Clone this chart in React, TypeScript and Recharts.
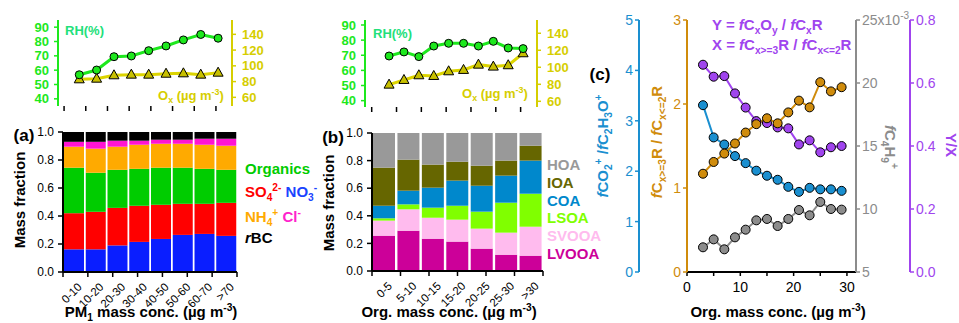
import React from "react";
import { BarChart, Bar, LineChart, Line, XAxis, YAxis } from "recharts";

const FONT = '"Liberation Sans", Arial, Helvetica, sans-serif';

const GREEN = "#1de81d";
const RH_TXT = "#22e07a";
const OX = "#d6ce00";
const OX_LINE = "#dcd400";
const OX_FILL = "#c8c000";
const C_BLUE = "#1a8fd0";
const C_ORANGE = "#d08c0c";
const C_GRAY = "#8c8c8c";
const C_PURPLE = "#a044ee";

// (a) top: RH and Ox vs PM1 bins
const pmMid = [7, 15, 23, 31, 39, 47, 55, 63, 71];
const rhPm = [56.8, 60.1, 69.4, 69.9, 73.6, 76.9, 81.1, 84.9, 82.3];
const oxPm = [82.9, 83.7, 88.0, 88.8, 88.8, 90.0, 90.5, 88.8, 91.3];
const pmEdges = [0, 10, 20, 30, 40, 50, 60, 70];

// (b) top: RH and Ox vs org bins
const orgMid = [3.5, 6.5, 9.5, 12.5, 15.5, 18.5, 21.5, 24.5, 27.5, 30.5];
const rhOrg = [69.5, 72.2, 69.1, 76.1, 77.9, 77.9, 76.1, 79.2, 74.8, 74.4];
const oxOrg = [79.6, 85.1, 90.6, 89.8, 95.3, 96.9, 103.1, 100.8, 102.4, 116.5];
const orgEdges = [0, 5, 10, 15, 20, 25, 30];

// (a) PM1 composition (mass fraction)
const pmBins = ["0-10", "10-20", "20-30", "30-40", "40-50", "50-60", "60-70", ">70"];
const no3 = [0.162, 0.162, 0.19, 0.215, 0.236, 0.265, 0.272, 0.258];
const so4 = [0.258, 0.268, 0.268, 0.258, 0.244, 0.222, 0.215, 0.236];
const orgs = [0.325, 0.279, 0.272, 0.264, 0.265, 0.258, 0.25, 0.236];
const nh4 = [0.15, 0.172, 0.165, 0.172, 0.171, 0.171, 0.172, 0.172];
const chl = [0.035, 0.049, 0.043, 0.029, 0.029, 0.029, 0.043, 0.05];
const rbc = [0.07, 0.07, 0.062, 0.062, 0.055, 0.055, 0.048, 0.048];

// (b) OA factor fractions
const orgBins = ["0-5", "5-10", "10-15", "15-20", "20-25", "25-30", ">30"];
const lvooa = [0.256, 0.292, 0.234, 0.213, 0.162, 0.118, 0.111];
const svooa = [0.109, 0.155, 0.152, 0.159, 0.145, 0.16, 0.21];
const lsoa = [0.017, 0.036, 0.073, 0.101, 0.123, 0.217, 0.239];
const coa = [0.091, 0.099, 0.145, 0.182, 0.188, 0.196, 0.24];
const ioa = [0.276, 0.225, 0.167, 0.137, 0.145, 0.109, 0.108];
const hoa = [0.251, 0.193, 0.229, 0.208, 0.237, 0.2, 0.092];

// (c) ratios vs org mass
const orgConc = [3, 5, 7, 9, 11, 13, 15, 17, 19, 21, 23, 25, 27, 29];
const co2Ratio = [3.31, 2.67, 2.53, 2.3, 2.16, 2.01, 1.91, 1.83, 1.69, 1.59, 1.67, 1.64, 1.64, 1.61];
const cxRatio = [1.17, 1.31, 1.41, 1.53, 1.66, 1.76, 1.83, 1.77, 1.9, 2.04, 1.96, 2.26, 2.15, 2.2];
const fC4H9 = [6.96, 7.59, 6.8, 7.75, 8.36, 9.1, 9.21, 8.65, 9.21, 9.92, 9.5, 10.56, 10.0, 9.95]; // x1e-3
const yOverX = [0.658, 0.62, 0.622, 0.567, 0.522, 0.479, 0.473, 0.459, 0.456, 0.405, 0.418, 0.38, 0.396, 0.4];

const Sub = ({ c }: { c: string }) => (
  <span style={{ fontSize: "0.68em", position: "relative", top: "0.35em" }}>{c}</span>
);
const Sup = ({ c }: { c: string }) => (
  <span style={{ fontSize: "0.68em", position: "relative", top: "-0.6em" }}>{c}</span>
);

function Txt({ x, y, children, color = "#000", size = 15, bold = true, rot = 0, start = false }: any) {
  return (
    <div
      style={{
        position: "absolute",
        left: x,
        top: y,
        transform: `translate(${start ? "0" : "-50%"},-50%) rotate(${rot}deg)`,
        color,
        fontSize: size,
        fontWeight: bold ? 700 : 400,
        fontFamily: FONT,
        whiteSpace: "nowrap",
        lineHeight: 1,
      }}
    >
      {children}
    </div>
  );
}

const Tri = (p: any) => {
  const { cx, cy } = p;
  if (cx == null || cy == null) return <g key={p.index} />;
  return (
    <polygon
      key={p.index}
      points={`${cx},${cy - 5.5} ${cx + 5},${cy + 3.5} ${cx - 5},${cy + 3.5}`}
      fill={OX_FILL}
      stroke="#000"
      strokeWidth={1}
    />
  );
};

function RhOxChart({ x, rh, ox, edges, xDomain, rhDomain, oxDomain, width, height, leftW, rightW }: any) {
  const data = x.map((v: number, i: number) => ({ x: v, rh: rh[i], ox: ox[i] }));
  const tickFont = { fontSize: 13, fontWeight: 700, fontFamily: FONT };
  return (
    <LineChart width={width} height={height} data={data} margin={{ top: 20, right: 0, bottom: 0, left: 0 }}>
      <XAxis
        dataKey="x"
        type="number"
        domain={xDomain}
        ticks={edges}
        interval={0}
        allowDataOverflow
        tickFormatter={() => ""}
        axisLine={false}
        tickLine={{ stroke: "#000", strokeWidth: 1.5 }}
        tickSize={5}
        height={9}
      />
      <YAxis
        yAxisId="rh"
        domain={rhDomain}
        ticks={[40, 50, 60, 70, 80, 90]}
        interval={0}
        allowDataOverflow
        width={leftW}
        axisLine={{ stroke: GREEN, strokeWidth: 2 }}
        tickLine={{ stroke: GREEN, strokeWidth: 1.5 }}
        tickSize={4}
        tickMargin={5}
        tick={{ fill: GREEN, ...tickFont }}
      />
      <YAxis
        yAxisId="ox"
        orientation="right"
        domain={oxDomain}
        ticks={[60, 80, 100, 120, 140]}
        interval={0}
        allowDataOverflow
        width={rightW}
        axisLine={{ stroke: OX, strokeWidth: 2 }}
        tickLine={{ stroke: OX, strokeWidth: 1.5 }}
        tickSize={4}
        tickMargin={6}
        tick={{ fill: OX, ...tickFont }}
      />
      <Line yAxisId="ox" dataKey="ox" stroke={OX_LINE} strokeWidth={3} dot={Tri} isAnimationActive={false} />
      <Line
        yAxisId="rh"
        dataKey="rh"
        stroke={GREEN}
        strokeWidth={3}
        dot={{ r: 4, fill: GREEN, stroke: "#000", strokeWidth: 1 }}
        isAnimationActive={false}
      />
    </LineChart>
  );
}

const RotTick = (p: any) => {
  const { x, y, payload } = p;
  const ax = x + 3;
  const ay = y + 1;
  return (
    <text
      x={ax}
      y={ay}
      dy="0.7em"
      transform={`rotate(-45 ${ax} ${ay})`}
      textAnchor="end"
      fontSize={11.5}
      fontFamily={FONT}
      fill="#000"
    >
      {payload.value}
    </text>
  );
};

// axes of one side are stacked by id order: "x0" sits next to the plot
function StackBars({ bins, series, width, height, leftW, top, right, catH }: any) {
  const data = bins.map((b: string, i: number) => {
    const row: any = { bin: b };
    series.forEach((s: any) => (row[s.key] = s.values[i]));
    return row;
  });
  const edges = bins.map((_: string, i: number) => i).concat([bins.length]);
  return (
    <BarChart
      width={width}
      height={height}
      data={data}
      margin={{ top, right, bottom: 0, left: 0 }}
      barCategoryGap={1}
    >
      <XAxis
        xAxisId="x0"
        type="number"
        domain={[0, bins.length]}
        ticks={edges}
        interval={0}
        allowDataOverflow
        tickFormatter={() => ""}
        axisLine={{ stroke: "#000", strokeWidth: 2 }}
        tickLine={{ stroke: "#000", strokeWidth: 1.5 }}
        tickSize={5}
        height={1}
      />
      <XAxis xAxisId="x1" dataKey="bin" interval={0} tickLine={false} axisLine={false} tick={RotTick} height={catH} />
      <YAxis
        domain={[0, 1]}
        ticks={[0, 0.2, 0.4, 0.6, 0.8, 1]}
        interval={0}
        tickFormatter={(v: number) => v.toFixed(1)}
        width={leftW}
        axisLine={{ stroke: "#000", strokeWidth: 2 }}
        tickLine={{ stroke: "#000", strokeWidth: 1.5 }}
        tickSize={5}
        tickMargin={4}
        tick={{ fill: "#000", fontSize: 12, fontFamily: FONT }}
      />
      {series.map((s: any) => (
        <Bar key={s.key} xAxisId="x1" stackId="s" dataKey={s.key} fill={s.color} isAnimationActive={false} />
      ))}
    </BarChart>
  );
}

const GrayTick = (p: any) => {
  const { x, y, payload } = p;
  return (
    <text x={x} y={y} dy="0.355em" textAnchor="start" fill={C_GRAY} fontSize={14} fontFamily={FONT}>
      {payload.value}
      {payload.value === 25 ? "x10" : ""}
      {payload.value === 25 ? (
        <tspan dy="-0.55em" fontSize={10}>
          -3
        </tspan>
      ) : null}
    </text>
  );
};

function PanelC() {
  const data = orgConc.map((x, i) => ({
    x,
    co2: co2Ratio[i],
    cx: cxRatio[i],
    c4: fC4H9[i],
    yx: yOverX[i],
  }));
  const font = { fontSize: 14, fontFamily: FONT };
  const dot = (c: string) => ({ r: 4.5, fill: c, stroke: "#000", strokeWidth: 1 });
  return (
    <LineChart width={399} height={323} data={data} margin={{ top: 20, right: 0, bottom: 0, left: 0 }}>
      <XAxis
        dataKey="x"
        type="number"
        domain={[0, 31.7]}
        ticks={[0, 5, 10, 15, 20, 25, 30]}
        interval={0}
        allowDataOverflow
        tickFormatter={(v: number) => (v % 10 === 0 ? String(v) : "")}
        axisLine={{ stroke: "#000", strokeWidth: 2 }}
        tickLine={{ stroke: "#000", strokeWidth: 1.5 }}
        tickSize={4}
        tickMargin={6}
        tick={{ fill: "#000", ...font }}
        height={51}
      />
      <YAxis
        yAxisId="y0"
        domain={[0, 3]}
        ticks={[0, 1, 2, 3]}
        interval={0}
        width={48}
        axisLine={{ stroke: C_ORANGE, strokeWidth: 2 }}
        tickLine={{ stroke: C_ORANGE, strokeWidth: 1.5 }}
        tickSize={4}
        tick={{ fill: C_ORANGE, ...font }}
      />
      <YAxis
        yAxisId="y1"
        domain={[0, 5]}
        ticks={[0, 1, 2, 3, 4, 5]}
        interval={0}
        width={79}
        axisLine={{ stroke: C_BLUE, strokeWidth: 2 }}
        tickLine={{ stroke: C_BLUE, strokeWidth: 1.5 }}
        tickSize={4}
        tick={{ fill: C_BLUE, ...font }}
      />
      <YAxis
        yAxisId="y2"
        orientation="right"
        domain={[5, 25]}
        ticks={[5, 10, 15, 20, 25]}
        interval={0}
        width={54}
        axisLine={{ stroke: C_GRAY, strokeWidth: 2 }}
        tickLine={{ stroke: C_GRAY, strokeWidth: 1.5 }}
        tickSize={4}
        tick={GrayTick}
      />
      <YAxis
        yAxisId="y3"
        orientation="right"
        domain={[0, 0.8]}
        ticks={[0, 0.2, 0.4, 0.6, 0.8]}
        interval={0}
        tickFormatter={(v: number) => v.toFixed(1)}
        width={49}
        axisLine={{ stroke: C_PURPLE, strokeWidth: 2 }}
        tickLine={{ stroke: C_PURPLE, strokeWidth: 1.5 }}
        tickSize={4}
        tick={{ fill: C_PURPLE, ...font }}
      />
      <Line yAxisId="y1" dataKey="co2" stroke={C_BLUE} strokeWidth={2} dot={dot(C_BLUE)} isAnimationActive={false} />
      <Line yAxisId="y2" dataKey="c4" stroke={C_GRAY} strokeWidth={2} dot={dot(C_GRAY)} isAnimationActive={false} />
      <Line yAxisId="y3" dataKey="yx" stroke={C_PURPLE} strokeWidth={2} dot={dot(C_PURPLE)} isAnimationActive={false} />
      <Line yAxisId="y0" dataKey="cx" stroke={C_ORANGE} strokeWidth={2} dot={dot(C_ORANGE)} isAnimationActive={false} />
    </LineChart>
  );
}

const Abs = ({ x, y, children }: any) => (
  <div style={{ position: "absolute", left: x, top: y }}>{children}</div>
);

export default function App() {
  const seriesA = [
    { key: "no3", values: no3, color: "#0a1eff" },
    { key: "so4", values: so4, color: "#ff0000" },
    { key: "org", values: orgs, color: "#00cc00" },
    { key: "nh4", values: nh4, color: "#ffaa00" },
    { key: "chl", values: chl, color: "#ff14d2" },
    { key: "rbc", values: rbc, color: "#000000" },
  ];
  const seriesB = [
    { key: "lvooa", values: lvooa, color: "#cc0099" },
    { key: "svooa", values: svooa, color: "#ffbbee" },
    { key: "lsoa", values: lsoa, color: "#80ff00" },
    { key: "coa", values: coa, color: "#0088cc" },
    { key: "ioa", values: ioa, color: "#666600" },
    { key: "hoa", values: hoa, color: "#999999" },
  ];
  return (
    <div
      style={{
        position: "absolute",
        left: 0,
        top: 0,
        width: 959,
        height: 323,
        background: "#fff",
        overflow: "hidden",
        fontFamily: FONT,
      }}
    >
      <Abs x={0} y={0}>
        <RhOxChart
          x={pmMid}
          rh={rhPm}
          ox={oxPm}
          edges={pmEdges}
          xDomain={[-2.8, 77.4]}
          rhDomain={[35, 95]}
          oxDomain={[49, 158.2]}
          width={270}
          height={115}
          leftW={58}
          rightW={38}
        />
      </Abs>
      <Abs x={310} y={0}>
        <RhOxChart
          x={orgMid}
          rh={rhOrg}
          ox={oxOrg}
          edges={orgEdges}
          xDomain={[-1.35, 33.3]}
          rhDomain={[35.8, 93.3]}
          oxDomain={[53.3, 155.6]}
          width={260}
          height={116}
          leftW={55}
          rightW={33}
        />
      </Abs>
      <Abs x={0} y={120}>
        <StackBars bins={pmBins} series={seriesA} width={240} height={203} leftW={63} top={12} right={3} catH={50} />
      </Abs>
      <Abs x={315} y={120}>
        <StackBars bins={orgBins} series={seriesB} width={235} height={203} leftW={57} top={13} right={7} catH={51} />
      </Abs>
      <Abs x={560} y={0}>
        <PanelC />
      </Abs>

      {/* top panel labels */}
      <Txt x={65} y={30} start color={RH_TXT} size={13}>RH(%)</Txt>
      <Txt x={158} y={95} start color={OX} size={13}>
        O<Sub c="x" /> (µg m<Sup c="-3" />)
      </Txt>
      <Txt x={373} y={33} start color={RH_TXT} size={13}>RH(%)</Txt>
      <Txt x={462} y={93} start color={OX} size={13}>
        O<Sub c="x" /> (µg m<Sup c="-3" />)
      </Txt>

      {/* panel letters */}
      <Txt x={24} y={135} size={17}>(a)</Txt>
      <Txt x={333} y={137} size={17}>(b)</Txt>
      <Txt x={600} y={74} size={17}>(c)</Txt>

      {/* bar axis titles */}
      <Txt x={19} y={200} rot={-90}>Mass fraction</Txt>
      <Txt x={328} y={203} rot={-90}>Mass fraction</Txt>
      <Txt x={151} y={312}>
        PM<Sub c="1" /> mass conc. (µg m<Sup c="-3" />)
      </Txt>
      <Txt x={449} y={312}>
        Org. mass conc. (µg m<Sup c="-3" />)
      </Txt>
      <Txt x={778} y={312}>
        Org. mass conc. (µg m<Sup c="-3" />)
      </Txt>

      {/* legend (a) */}
      <Txt x={245} y={168} start color="#00cc00">Organics</Txt>
      <Txt x={245} y={192} start>
        <span style={{ color: "#ff0000" }}>
          SO<Sub c="4" />
          <Sup c="2-" />
        </span>{" "}
        <span style={{ color: "#1a44ff" }}>
          NO<Sub c="3" />
          <Sup c="-" />
        </span>
      </Txt>
      <Txt x={245} y={217} start>
        <span style={{ color: "#ffaa00" }}>
          NH<Sub c="4" />
          <Sup c="+" />
        </span>{" "}
        <span style={{ color: "#ff22cc" }}>
          Cl<Sup c="-" />
        </span>
      </Txt>
      <Txt x={245} y={237} start>
        <i>r</i>BC
      </Txt>

      {/* legend (b) */}
      <Txt x={547} y={164} start color="#999999">HOA</Txt>
      <Txt x={547} y={182} start color="#666600">IOA</Txt>
      <Txt x={547} y={200} start color="#0088cc">COA</Txt>
      <Txt x={547} y={217} start color="#80ff00">LSOA</Txt>
      <Txt x={547} y={235} start color="#ffbbee">SVOOA</Txt>
      <Txt x={547} y={253} start color="#cc0099">LVOOA</Txt>

      {/* panel (c) axis labels */}
      <Txt x={603} y={146} rot={-90} color={C_BLUE}>
        <i>f</i>CO<Sub c="2" />
        <Sup c="+" /> /<i>f</i>C<Sub c="2" />H<Sub c="3" />O<Sup c="+" />
      </Txt>
      <Txt x={657} y={142} rot={-90} color={C_ORANGE}>
        <i>f</i>C<Sub c="x>=3" />R / <i>f</i>C<Sub c="x<=2" />R
      </Txt>
      <Txt x={890} y={147} rot={90} color={C_GRAY}>
        <i>f</i>C<Sub c="4" />H<Sub c="9" />
        <Sup c="+" />
      </Txt>
      <Txt x={951} y={145} rot={90} color={C_PURPLE}>
        Y/X
      </Txt>
      <Txt x={712} y={25} start color={C_PURPLE}>
        Y = <i>f</i>C<Sub c="x" />O<Sub c="y" /> / <i>f</i>C<Sub c="x" />R
      </Txt>
      <Txt x={712} y={45} start color={C_PURPLE}>
        X = <i>f</i>C<Sub c="x>=3" />R / <i>f</i>C<Sub c="x<=2" />R
      </Txt>
    </div>
  );
}
